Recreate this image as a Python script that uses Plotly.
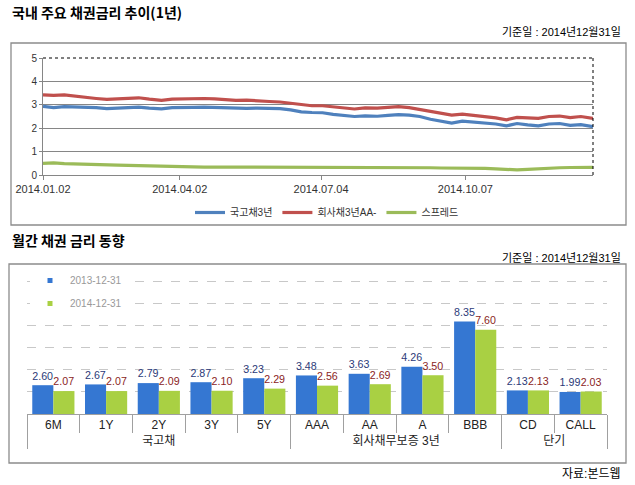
import plotly.graph_objects as go
import pandas as pd

W, H = 635, 485

# ---------------- line chart data (weekly readings) ----------------
line_dates = pd.date_range("2014-01-02", "2014-12-30", periods=52).normalize()
ktb3 = [2.93, 2.88, 2.92, 2.91, 2.90, 2.88, 2.84, 2.86, 2.89, 2.90, 2.86, 2.83, 2.88,
        2.90, 2.89, 2.90, 2.88, 2.88, 2.86, 2.85, 2.86, 2.84, 2.84, 2.78, 2.70, 2.67,
        2.66, 2.59, 2.55, 2.50, 2.53, 2.51, 2.55, 2.58, 2.56, 2.50, 2.38, 2.30, 2.22,
        2.30, 2.26, 2.22, 2.18, 2.10, 2.20, 2.14, 2.10, 2.18, 2.20, 2.12, 2.15, 2.07]
corp3 = [3.42, 3.40, 3.42, 3.36, 3.30, 3.27, 3.23, 3.25, 3.28, 3.30, 3.24, 3.19, 3.24,
         3.26, 3.27, 3.27, 3.25, 3.22, 3.19, 3.20, 3.16, 3.14, 3.12, 3.06, 2.99, 2.96,
         2.96, 2.91, 2.86, 2.82, 2.87, 2.86, 2.89, 2.92, 2.88, 2.80, 2.72, 2.66, 2.56,
         2.60, 2.56, 2.50, 2.44, 2.36, 2.46, 2.44, 2.42, 2.50, 2.52, 2.45, 2.50, 2.42]
spread = [0.50, 0.52, 0.49, 0.47, 0.45, 0.43, 0.42, 0.42, 0.41, 0.40, 0.38, 0.36, 0.34,
          0.34, 0.34, 0.34, 0.34, 0.34, 0.33, 0.34, 0.33, 0.33, 0.33, 0.32, 0.31, 0.31,
          0.31, 0.31, 0.31, 0.32, 0.32, 0.31, 0.31, 0.31, 0.32, 0.31, 0.31, 0.30, 0.30,
          0.30, 0.29, 0.28, 0.26, 0.23, 0.22, 0.24, 0.27, 0.30, 0.31, 0.32, 0.32, 0.33]
line_names = ["국고채3년", "회사채3년AA-", "스프레드"]
line_colors = ["#4f81bd", "#c0504d", "#9bbb59"]
line_tickvals = ["2014-01-02", "2014-04-02", "2014-07-04", "2014-10-07"]
line_ticktext = ["2014.01.02", "2014.04.02", "2014.07.04", "2014.10.07"]

# ---------------- bar chart data ----------------
bar_groups = ["국고채"] * 5 + ["회사채무보증 3년"] * 4 + ["단기"] * 2
bar_cats = ["6M", "1Y", "2Y", "3Y", "5Y", "AAA", "AA", "A", "BBB", "CD", "CALL"]
rates_2013 = [2.60, 2.67, 2.79, 2.87, 3.23, 3.48, 3.63, 4.26, 8.35, 2.13, 1.99]
rates_2014 = [2.07, 2.07, 2.09, 2.10, 2.29, 2.56, 2.69, 3.50, 7.60, 2.13, 2.03]
bar_names = ["2013-12-31", "2014-12-31"]
bar_colors = ["#3577d2", "#a9d043"]
label_colors = ["#2b3a78", "#8a2424"]

FONT = "Liberation Sans, Noto Sans CJK KR, sans-serif"
KFONT = "Noto Sans CJK KR, sans-serif"

def px_x(p):
    return p / W

def px_y(p):
    return 1 - p / H

fig = go.Figure()

for vals, name, col in zip([ktb3, corp3, spread], line_names, line_colors):
    fig.add_trace(go.Scatter(x=line_dates, y=vals, name=name, mode="lines",
                             line=dict(color=col, width=3.2),
                             xaxis="x", yaxis="y", legend="legend"))

for vals, name, col, lcol in zip([rates_2013, rates_2014], bar_names, bar_colors, label_colors):
    fig.add_trace(go.Bar(x=[bar_groups, bar_cats], y=vals, name=name,
                         marker=dict(color=col, line=dict(width=0)),
                         text=vals, texttemplate="%{y:.2f}", textposition="outside",
                         textfont=dict(color=lcol, size=12, family=FONT),
                         cliponaxis=False, showlegend=False,
                         xaxis="x2", yaxis="y2"))
    # small square legend entries
    fig.add_trace(go.Scatter(x=[None], y=[None], name=name, mode="markers",
                             marker=dict(symbol="square", size=5, color=col),
                             xaxis="x", yaxis="y", legend="legend2",
                             legendgroup=name))

fig.update_layout(
    width=W, height=H,
    margin=dict(l=0, r=0, t=0, b=0, autoexpand=False),
    paper_bgcolor="white", plot_bgcolor="white",
    font=dict(family=FONT, size=11, color="#222"),
    barmode="group", bargap=0.2, bargroupgap=0,
    xaxis=dict(domain=[px_x(43), px_x(593)], type="date", anchor="y",
               range=["2014-01-02", "2014-12-30"],
               tickvals=line_tickvals, ticktext=line_ticktext,
               showgrid=False, showline=True, linecolor="#868686",
               ticks="outside", ticklen=4, tickcolor="#868686",
               tickfont=dict(size=11, color="#333"), zeroline=False,
               automargin=False),
    yaxis=dict(domain=[px_y(175), px_y(58)], range=[0, 5], dtick=1, anchor="x",
               showgrid=True, gridcolor="#868686", gridwidth=1,
               showline=True, linecolor="#868686",
               ticks="outside", ticklen=3, tickcolor="#868686",
               tickfont=dict(size=10, color="#333"), zeroline=False,
               automargin=False),
    xaxis2=dict(domain=[px_x(27), px_x(607)], type="multicategory", anchor="y2",
                showline=True, linecolor="#a0a0a0",
                ticks="outside", tickson="boundaries", ticklen=18,
                tickcolor="#a0a0a0", showdividers=True,
                dividercolor="#a0a0a0", dividerwidth=1,
                tickfont=dict(size=12, color="#222", family=FONT),
                automargin=False),
    yaxis2=dict(domain=[px_y(414), px_y(270)], range=[0, 13], dtick=2, anchor="x2",
                showgrid=True, gridcolor="#c8c8c8", griddash="dash",
                showticklabels=False, zeroline=False, showline=False,
                automargin=False),
    legend=dict(orientation="h", x=0.515, xanchor="center", y=px_y(198), yanchor="top",
                font=dict(size=10, color="#333", family=FONT),
                bgcolor="rgba(0,0,0,0)"),
    legend2=dict(x=px_x(30), xanchor="left", y=px_y(266), yanchor="top",
                 font=dict(size=10, color="#999", family=FONT),
                 bgcolor="white", traceorder="grouped", tracegroupgap=4,
                 itemwidth=30),
    shapes=[
        dict(type="rect", xref="paper", yref="paper",
             x0=px_x(11), x1=px_x(626), y0=px_y(225), y1=px_y(43),
             line=dict(color="#8c8c8c", width=1.3)),
        dict(type="rect", xref="paper", yref="paper",
             x0=px_x(9), x1=px_x(626), y0=px_y(463), y1=px_y(264),
             line=dict(color="#8c8c8c", width=1.3)),
        dict(type="line", xref="x domain", yref="y domain", x0=0, x1=1, y0=1, y1=1,
             line=dict(color="#000", width=1, dash="dot")),
        dict(type="line", xref="x domain", yref="y domain", x0=1, x1=1, y0=0, y1=1,
             line=dict(color="#000", width=1, dash="dot")),
    ],
    annotations=[
        dict(text="<b>국내 주요 채권금리 추이(1년)</b>", xref="paper", yref="paper",
             x=px_x(10), y=px_y(12), xanchor="left", yanchor="middle", showarrow=False,
             font=dict(size=14, color="#000", family=KFONT)),
        dict(text="기준일 : 2014년12월31일", xref="paper", yref="paper",
             x=px_x(623), y=px_y(32), xanchor="right", yanchor="middle", showarrow=False,
             font=dict(size=11, color="#000", family=FONT)),
        dict(text="<b>월간 채권 금리 동향</b>", xref="paper", yref="paper",
             x=px_x(10), y=px_y(240), xanchor="left", yanchor="middle", showarrow=False,
             font=dict(size=14, color="#000", family=KFONT)),
        dict(text="기준일 : 2014년12월31일", xref="paper", yref="paper",
             x=px_x(623), y=px_y(257), xanchor="right", yanchor="middle", showarrow=False,
             font=dict(size=11, color="#000", family=FONT)),
        dict(text="자료:본드웹", xref="paper", yref="paper",
             x=px_x(623), y=px_y(474), xanchor="right", yanchor="middle", showarrow=False,
             font=dict(size=12, color="#000", family=FONT)),
    ],
)

fig.write_html("out.html", config={"displayModeBar": False},
               post_script="document.body.style.margin='0';document.body.style.overflow='hidden';")
